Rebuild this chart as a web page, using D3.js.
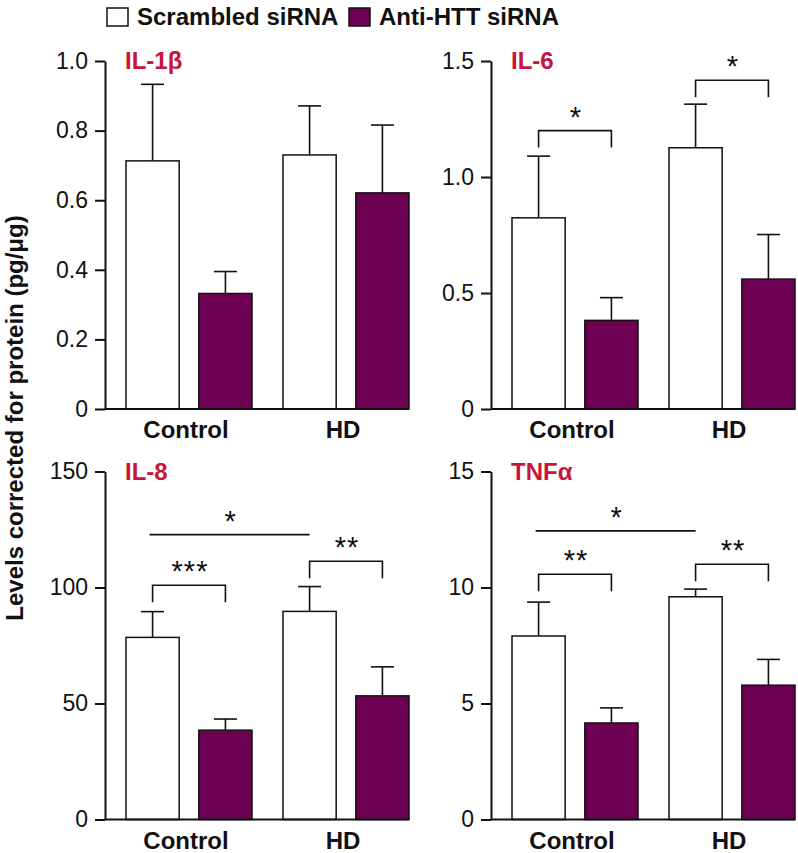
<!DOCTYPE html>
<meta charset="utf-8">
<style>
body { margin: 0; background: #fff; }
svg text { font-family: "Liberation Sans", Arial, Helvetica, sans-serif; }
.tick text { font-size: 23px; fill: #111; }
.tick line, .domain { stroke: #111; stroke-width: 2px; }
.title { font-size: 24px; font-weight: bold; fill: #c8153c; }
.grp { font-size: 24px; font-weight: bold; fill: #111; text-anchor: middle; }
.legend { font-size: 24px; font-weight: bold; fill: #111; }
.sig { font-size: 29px; fill: #111; text-anchor: middle; letter-spacing: 1px; }
</style>
<svg class="chart"></svg>
<script src="https://d3js.org/d3.v7.min.js"></script>
<script>

var groups = ["Control", "HD"];
var series = ["Scrambled siRNA", "Anti-HTT siRNA"];
var panelNames = ["IL-1β", "IL-6", "IL-8", "TNFα"];
var yMax = [1, 1.5, 150, 15];
var yTicks = [[0, 0.2, 0.4, 0.6, 0.8, 1.0], [0, 0.5, 1.0, 1.5], [0, 50, 100, 150], [0, 5, 10, 15]];
var tickDecimals = [1, 1, 0, 0];

// means and SEM, order: Control, HD
var scrambledMean = [[0.713, 0.730], [0.824, 1.126], [78.5, 89.7], [7.91, 9.60]];
var scrambledErr  = [[0.220, 0.141], [0.266, 0.188], [11.1, 10.7], [1.46, 0.33]];
var antiMean      = [[0.332, 0.621], [0.382, 0.560], [38.5, 53.3], [4.16, 5.79]];
var antiErr       = [[0.063, 0.195], [0.098, 0.192], [4.8, 12.5], [0.65, 1.11]];

// significance marks: bracket between two bars of a group, or line between scrambled bars of both groups
var sigMarks = [
  [],
  [{type: "bracket", group: "Control", y: 1.20, label: "*"},
   {type: "bracket", group: "HD", y: 1.417, label: "*"}],
  [{type: "bracket", group: "Control", y: 101, label: "***"},
   {type: "bracket", group: "HD", y: 111.3, label: "**"},
   {type: "line", y: 122.8, label: "*"}],
  [{type: "bracket", group: "Control", y: 10.57, label: "**"},
   {type: "bracket", group: "HD", y: 11.0, label: "**"},
   {type: "line", y: 12.44, label: "*"}]
];

var width = 798, height = 853;
var pw = 304, ph = 348;
var origins = [[105, 61], [491, 61], [105, 471.5], [491, 471.5]];
var colors = ["#ffffff", "#6d0052"];

var svg = d3.select(".chart")
    .attr("width", width)
    .attr("height", height);

// legend
var legend = svg.append("g");
var legendX = [107, 349];
series.forEach(function(s, i) {
  legend.append("rect")
      .attr("x", legendX[i]).attr("y", 8)
      .attr("width", 21).attr("height", 18)
      .attr("fill", colors[i])
      .attr("stroke", "#111").attr("stroke-width", 1.5);
  legend.append("text")
      .attr("class", "legend")
      .attr("x", legendX[i] + 30).attr("y", 25)
      .text(s);
});

// shared y label
svg.append("text")
    .attr("class", "legend")
    .attr("transform", "translate(23,418) rotate(-90)")
    .attr("text-anchor", "middle")
    .text("Levels corrected for protein (pg/μg)");

var x0 = d3.scaleBand().domain(groups).range([21, pw]).paddingInner(31 / 157);
var x1 = d3.scaleBand().domain(d3.range(series.length)).range([0, x0.bandwidth()]).paddingInner(0.27);

panelNames.forEach(function(name, p) {
  var g = svg.append("g")
      .attr("transform", "translate(" + origins[p][0] + "," + origins[p][1] + ")");

  var y = d3.scaleLinear().domain([0, yMax[p]]).range([ph, 0]);

  var data = [];
  groups.forEach(function(grp, gi) {
    data.push({group: grp, s: 0, mean: scrambledMean[p][gi], err: scrambledErr[p][gi]});
    data.push({group: grp, s: 1, mean: antiMean[p][gi], err: antiErr[p][gi]});
  });

  function cx(grp, s) { return x0(grp) + x1(s) + x1.bandwidth() / 2; }

  // error bars
  var eb = g.selectAll(".err").data(data).enter().append("g")
      .attr("stroke", "#111").attr("stroke-width", 1.6);
  eb.append("line")
      .attr("x1", function(d) { return cx(d.group, d.s); })
      .attr("x2", function(d) { return cx(d.group, d.s); })
      .attr("y1", function(d) { return y(d.mean); })
      .attr("y2", function(d) { return y(d.mean + d.err); });
  eb.append("line")
      .attr("x1", function(d) { return cx(d.group, d.s) - 11.5; })
      .attr("x2", function(d) { return cx(d.group, d.s) + 11.5; })
      .attr("y1", function(d) { return y(d.mean + d.err); })
      .attr("y2", function(d) { return y(d.mean + d.err); });

  // bars
  g.selectAll(".bar").data(data).enter().append("rect")
      .attr("x", function(d) { return x0(d.group) + x1(d.s); })
      .attr("y", function(d) { return y(d.mean); })
      .attr("width", x1.bandwidth())
      .attr("height", function(d) { return ph - y(d.mean); })
      .attr("fill", function(d) { return colors[d.s]; })
      .attr("stroke", "#111").attr("stroke-width", 1.5);

  // axes
  var fmt = d3.format("." + tickDecimals[p] + "f");
  g.append("g")
      .call(d3.axisLeft(y).tickValues(yTicks[p]).tickSize(10).tickSizeOuter(0).tickPadding(7)
        .tickFormat(function(d) { return d === 0 ? "0" : fmt(d); }));
  g.append("line")
      .attr("x1", 0).attr("x2", pw).attr("y1", ph).attr("y2", ph)
      .attr("stroke", "#111").attr("stroke-width", 2);

  groups.forEach(function(grp) {
    g.append("text")
        .attr("class", "grp")
        .attr("x", x0(grp) + x0.bandwidth() / 2 - 3)
        .attr("y", ph + 29)
        .text(grp);
  });

  g.append("text")
      .attr("class", "title")
      .attr("x", 20).attr("y", 8)
      .text(name);

  // significance
  sigMarks[p].forEach(function(m) {
    var yy = y(m.y), xa, xb;
    if (m.type === "bracket") {
      xa = cx(m.group, 0); xb = cx(m.group, 1);
      g.append("path")
          .attr("d", "M" + xa + "," + (yy + 17) + "V" + yy + "H" + xb + "V" + (yy + 17))
          .attr("fill", "none").attr("stroke", "#111").attr("stroke-width", 1.6);
    } else {
      xa = cx(groups[0], 0) - 3; xb = cx(groups[1], 0);
      g.append("line")
          .attr("x1", xa).attr("x2", xb).attr("y1", yy).attr("y2", yy)
          .attr("stroke", "#111").attr("stroke-width", 1.6);
    }
    g.append("text")
        .attr("class", "sig")
        .attr("x", (xa + xb) / 2 + 1)
        .attr("y", yy - 4)
        .text(m.label);
  });
});

</script>
